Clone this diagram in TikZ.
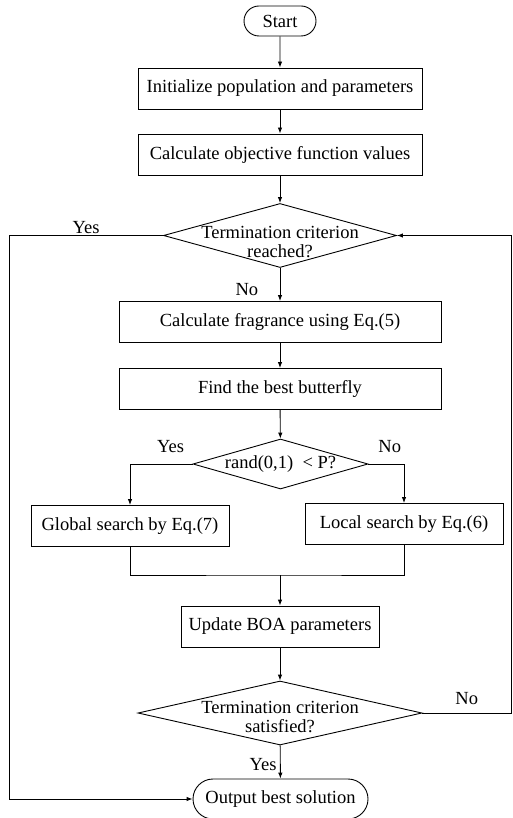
\documentclass[tikz,border=0pt]{standalone}
\usepackage{fontspec}
\setmainfont{Liberation Serif}
\usetikzlibrary{positioning, calc, arrows, arrows.meta, shapes}
\tikzset{process/.style={draw, rectangle, minimum height=41pt, inner sep=0pt}}
\tikzset{decision/.style={draw, diamond, align=center, inner xsep=-14pt, inner ysep=-14pt}}
\tikzset{terminal/.style={draw, rounded rectangle, inner sep=0pt}}
\tikzset{flow/.style={-{Latex[length=6pt, width=4.5pt]}}}

\begin{document}
\begin{tikzpicture}[x=1pt, y=-1pt, line width=0.9pt, font=\fontsize{18.5}{18.5}\selectfont]
  \useasboundingbox (0,0) rectangle (512,818);

  \node[terminal, minimum width=72pt, minimum height=30pt] (start) at (280,21) {Start};
  \node[process, minimum width=284pt] (init) at (280,88.5) {Initialize population and parameters};
  \node[process, minimum width=284pt] (eval) at (280,154.5) {Calculate objective function values};
  \node[decision, minimum width=233pt, minimum height=64pt, aspect=3.6] (stop1) at (280,235.5) {\rule{0pt}{25pt}Termination criterion\\reached?};
  \node[process, minimum width=322pt] (frag) at (280,322) {Calculate fragrance using Eq.(5)};
  \node[process, minimum width=322pt] (best) at (280,389) {Find the best butterfly};
  \node[decision, minimum width=175pt, minimum height=50pt, aspect=3.5] (choice) at (280.5,464) {rand(0,1)\ \ < P?};
  \node[process, minimum width=198pt] (global) at (130,526) {Global search by Eq.(7)};
  \node[process, minimum width=198pt] (local) at (404,524) {Local search by Eq.(6)};
  \coordinate (merge) at (280,575);
  \node[process, minimum width=198pt] (update) at (280,626.5) {Update BOA parameters};
  \node[decision, minimum width=284pt, minimum height=64pt, aspect=4.4] (stop2) at (280,713) {\rule{0pt}{20pt}Termination criterion\\satisfied?};
  \node[terminal, minimum width=175pt, minimum height=40pt] (out) at (280.5,799) {Output best solution};
  \coordinate (leftrail) at (9,235.5);
  \coordinate (rightrail) at (511,713);

  \draw[flow] (start) -- (init);
  \draw[flow] (init) -- (eval);
  \draw[flow] (eval) -- (stop1);
  \draw[flow] (stop1) -- node[pos=0.65, left=18pt] {No} (frag);
  \draw[flow] (frag) -- (best);
  \draw[flow] (best) -- (choice);
  \draw[flow] (choice.west) -| node[pos=0.175, above=8pt] {Yes} (global);
  \draw[flow] (choice.east) -| node[pos=0.3, above=8pt] {No} (local);
  \draw (global.south) |- (merge) -| (local.south);
  \draw[flow] (merge) -- (update);
  \draw[flow] (update) -- (stop2);
  \draw[flow] (stop2) -- node[pos=0.59, left] {Yes} (out);
  \draw[flow] (stop2.east) -- node[above=5pt] {No} (rightrail) |- (stop1.east);
  \draw[flow] (stop1.west) -- node[above, inner sep=1pt] {Yes} (leftrail) |- (out.west);
\end{tikzpicture}
\end{document}
